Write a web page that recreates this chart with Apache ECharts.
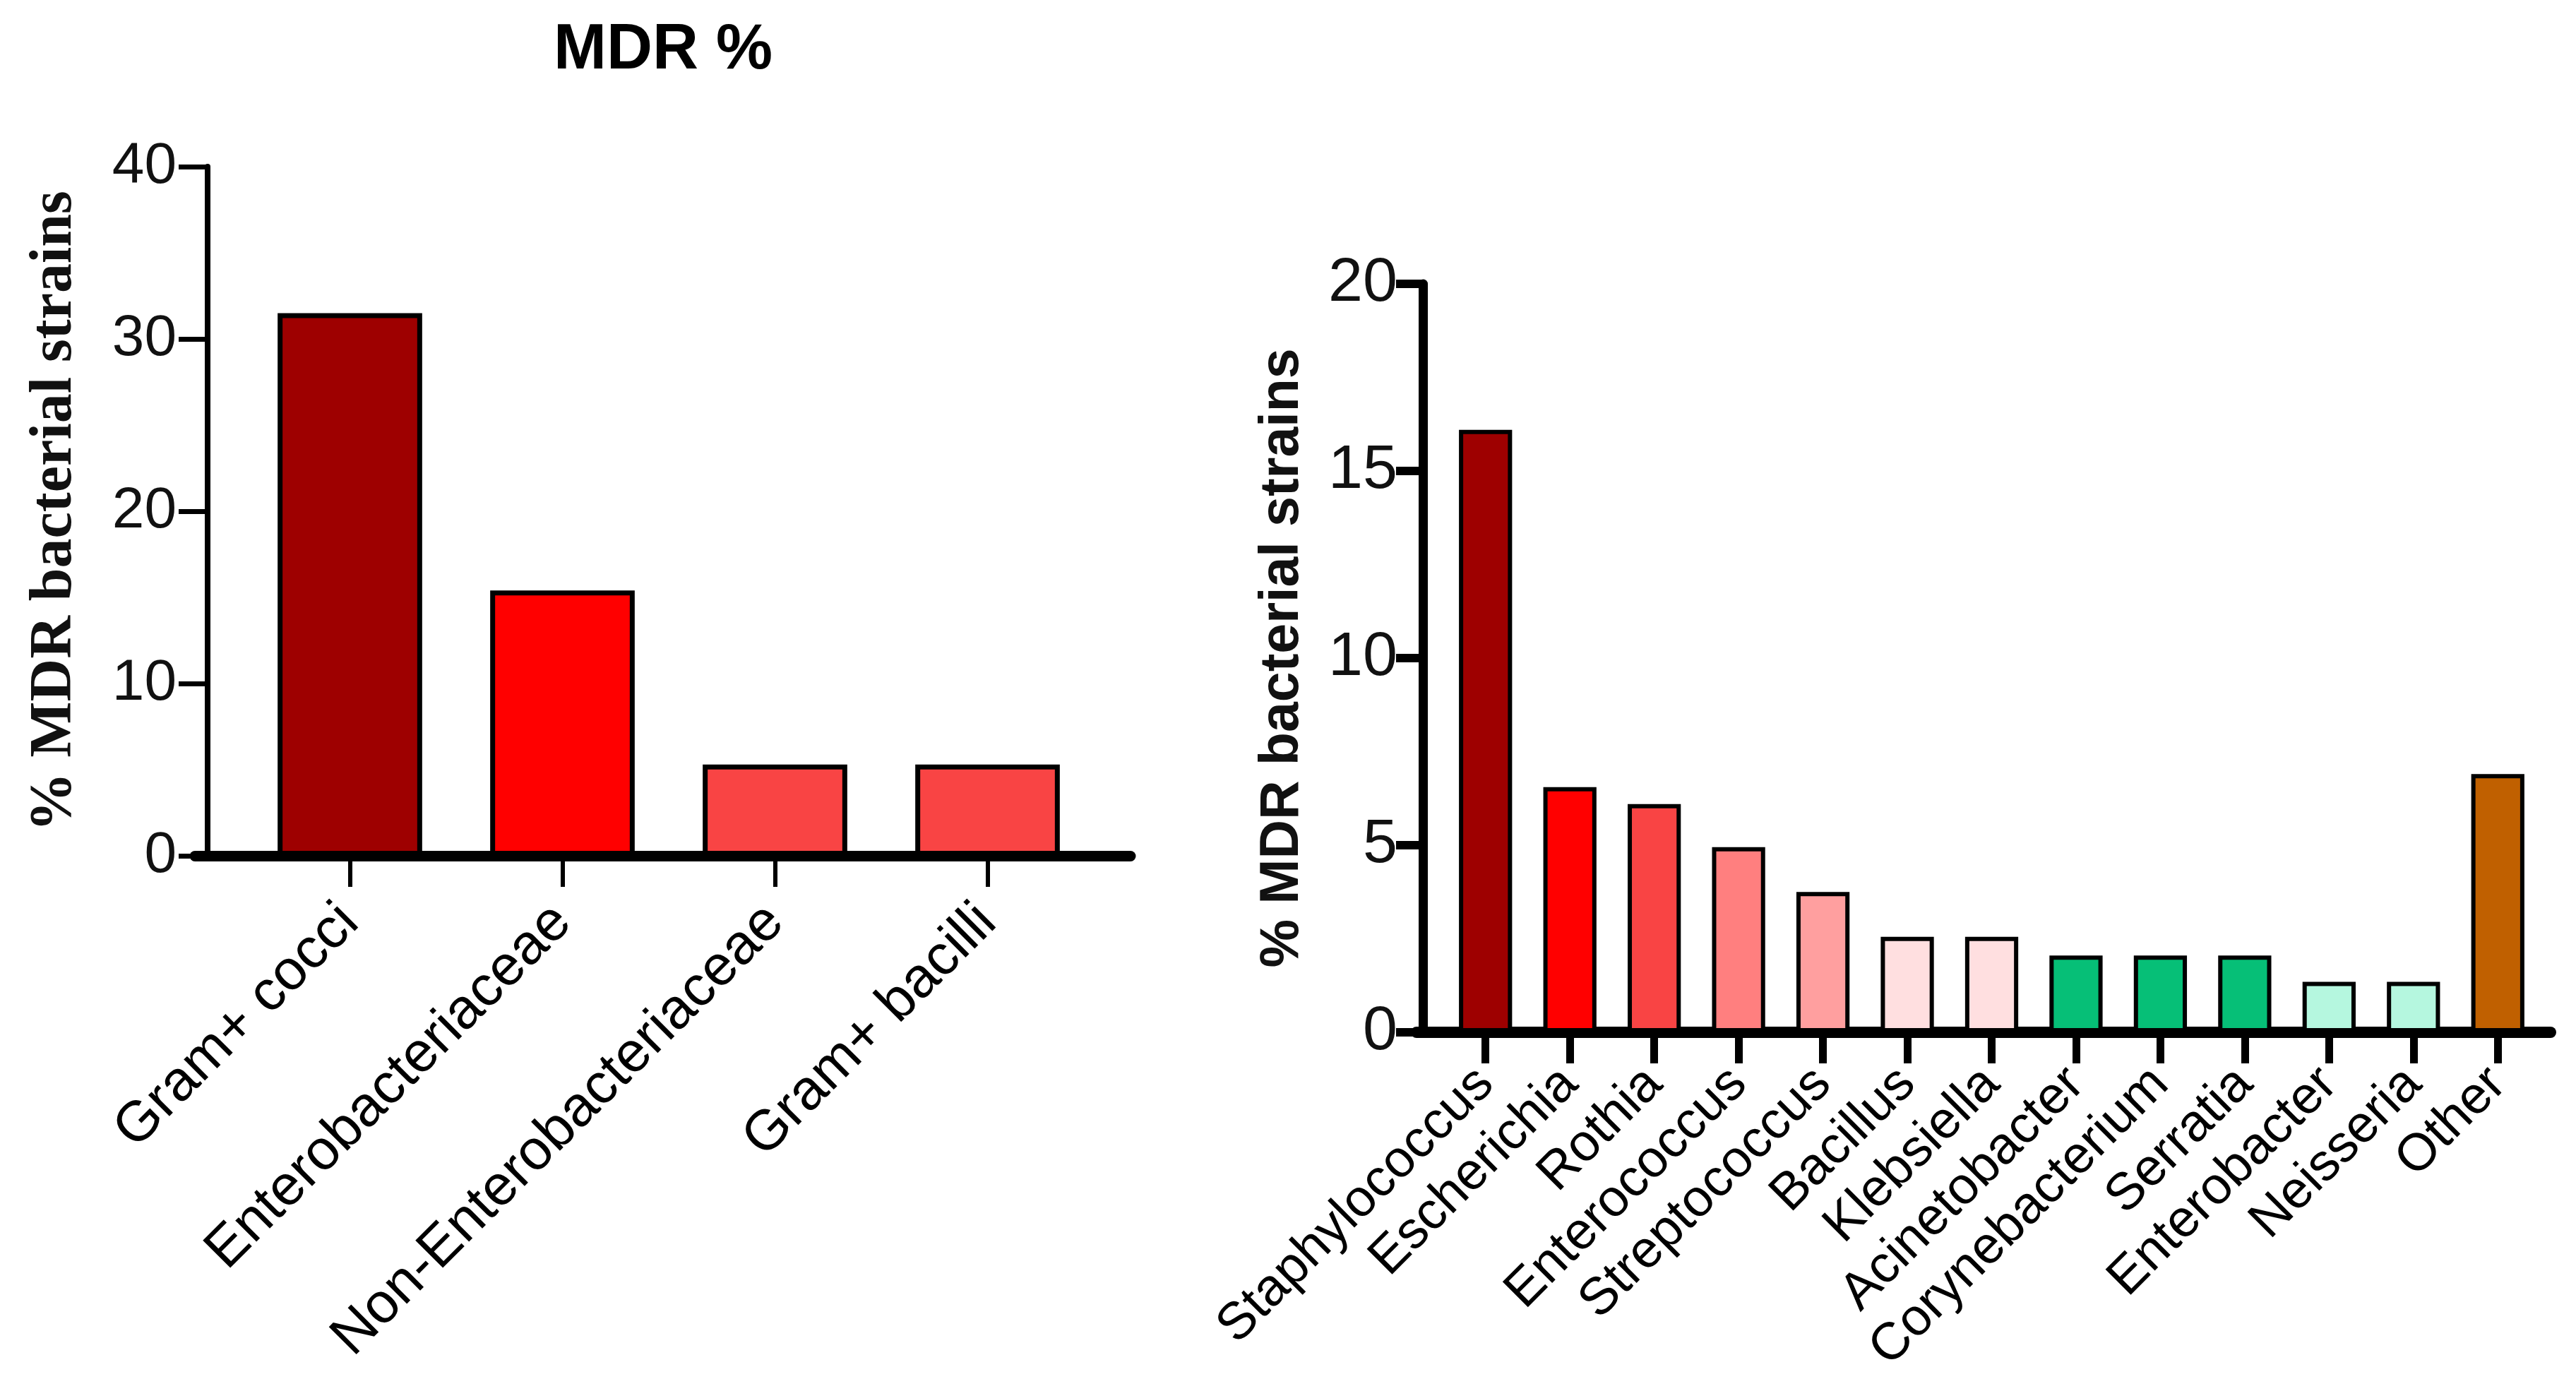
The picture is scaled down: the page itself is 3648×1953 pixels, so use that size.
<!DOCTYPE html>
<html><head><meta charset="utf-8">
<script src="https://cdn.jsdelivr.net/npm/echarts@6/dist/echarts.min.js"></script>
<style>html,body{margin:0;padding:0;background:#fff}#c{width:3648px;height:1953px}</style>
</head><body><div id="c"></div>
<script>
// ---- data ----
const groupCategories = ['Gram+ cocci', 'Enterobacteriaceae', 'Non-Enterobacteriaceae', 'Gram+ bacilli'];
const groupValues = [31.5, 15.4, 5.3, 5.3];
const groupTicks = [0, 10, 20, 30, 40];

const genusCategories = ['Staphylococcus', 'Escherichia', 'Rothia', 'Enterococcus', 'Streptococcus', 'Bacillus', 'Klebsiella', 'Acinetobacter', 'Corynebacterium', 'Serratia', 'Enterobacter', 'Neisseria', 'Other'];
const genusValues = [16.1, 6.55, 6.1, 4.95, 3.75, 2.55, 2.55, 2.05, 2.05, 2.05, 1.35, 1.35, 6.9];
const genusTicks = [0, 5, 10, 15, 20];

const titleText = 'MDR %';
const yName = '% MDR bacterial strains';

// ---- styles ----
const groupColors = ['#9E0000', '#FF0000', '#F94444', '#F94444'];
const genusColors = ['#9E0000', '#FF0000', '#F94444', '#FF7F7F', '#FF9F9F', '#FFDFE0', '#FFDFE0', '#06BF77', '#06BF77', '#06BF77', '#B5F7DF', '#B5F7DF', '#C06000'];
const narrow = "'Liberation Sans Narrow', 'Arial Narrow', 'Liberation Sans', sans-serif";
const sans = "'Liberation Sans', Arial, sans-serif";
const serif = "'Liberation Serif', 'Times New Roman', serif";

const chart = echarts.init(document.getElementById('c'), null, {renderer: 'canvas'});

function step(t) { return t[1] - t[0]; }

const option = {
  animation: false,
  backgroundColor: '#ffffff',
  title: {
    text: titleText, left: 779, top: 22,
    textStyle: {fontFamily: sans, fontWeight: 'bold', fontSize: 90, color: '#000'}
  },
  grid: [
    {left: 345, top: 236, width: 1204, height: 976, containLabel: false},
    {left: 276, top: 236, width: 1325, height: 976, containLabel: false},
    {left: 2044, top: 402, width: 1553, height: 1060, containLabel: false},
    {left: 2006, top: 402, width: 1606, height: 1060, containLabel: false}
  ],
  xAxis: [
    {
      type: 'category', gridIndex: 0, data: groupCategories,
      axisLine: {show: false},
      axisTick: {show: true, alignWithLabel: true, length: 44, lineStyle: {color: '#000', width: 6}},
      axisLabel: {interval: 0, rotate: 45, margin: 82, fontSize: 80, fontFamily: sans, color: '#000'},
      splitLine: {show: false}
    },
    {
      type: 'value', gridIndex: 1, min: 0, max: 1,
      axisLine: {show: true, onZero: false, lineStyle: {color: '#000', width: 15}},
      axisTick: {show: false}, axisLabel: {show: false}, splitLine: {show: false}
    },
    {
      type: 'category', gridIndex: 2, data: genusCategories,
      axisLine: {show: false},
      axisTick: {show: true, alignWithLabel: true, length: 44, lineStyle: {color: '#000', width: 11}},
      axisLabel: {interval: 0, rotate: 45, margin: 62, fontSize: 74, fontFamily: sans, color: '#000'},
      splitLine: {show: false}
    },
    {
      type: 'value', gridIndex: 3, min: 0, max: 1,
      axisLine: {show: true, onZero: false, lineStyle: {color: '#000', width: 16}},
      axisTick: {show: false}, axisLabel: {show: false}, splitLine: {show: false}
    }
  ],
  yAxis: [
    {
      type: 'value', gridIndex: 0,
      min: groupTicks[0], max: groupTicks[groupTicks.length - 1], interval: step(groupTicks),
      offset: 51,
      axisLine: {show: true, onZero: false, lineStyle: {color: '#000', width: 8}},
      axisTick: {show: true, length: 41, lineStyle: {color: '#000', width: 7}},
      axisLabel: {margin: 44, fontSize: 82, fontFamily: narrow, color: '#111'},
      splitLine: {show: false},
      name: yName, nameLocation: 'middle', nameRotate: 90, nameGap: 174,
      nameTextStyle: {fontFamily: serif, fontWeight: 'bold', fontSize: 84, color: '#111'}
    },
    {type: 'value', gridIndex: 1, min: 0, max: 1, show: false},
    {
      type: 'value', gridIndex: 2,
      min: genusTicks[0], max: genusTicks[genusTicks.length - 1], interval: step(genusTicks),
      offset: 29,
      axisLine: {show: true, onZero: false, lineStyle: {color: '#000', width: 13}},
      axisTick: {show: true, length: 38, lineStyle: {color: '#000', width: 12}},
      axisLabel: {margin: 36, fontSize: 88, fontFamily: narrow, color: '#111'},
      splitLine: {show: false},
      name: yName, nameLocation: 'middle', nameRotate: 90, nameGap: 160,
      nameTextStyle: {fontFamily: sans, fontWeight: 'bold', fontSize: 77, color: '#111'}
    },
    {type: 'value', gridIndex: 3, min: 0, max: 1, show: false}
  ],
  series: [
    {
      type: 'bar', xAxisIndex: 0, yAxisIndex: 0, barCategoryGap: '32%',
      data: groupValues.map((v, i) => ({value: v, itemStyle: {color: groupColors[i]}})),
      itemStyle: {borderColor: '#000', borderWidth: 7}
    },
    {
      type: 'bar', xAxisIndex: 2, yAxisIndex: 2, barCategoryGap: '37%',
      data: genusValues.map((v, i) => ({value: v, itemStyle: {color: genusColors[i]}})),
      itemStyle: {borderColor: '#000', borderWidth: 6}
    }
  ]
};
chart.setOption(option);
</script>
</body></html>
